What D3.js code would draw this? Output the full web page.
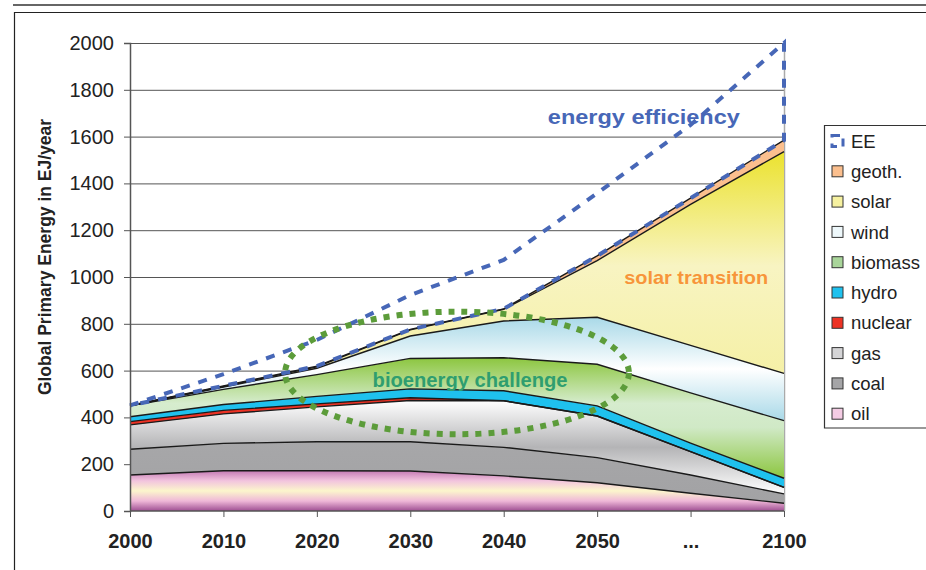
<!DOCTYPE html>
<html>
<head>
<meta charset="utf-8">
<script src="https://cdn.jsdelivr.net/npm/d3@7"></script>
<style>
  body { margin: 0; background: #fff; }
  svg { display: block; font-family: "Liberation Sans", Arial, sans-serif; }
  .axis path { stroke: #555; }
  .axis line { stroke: #555; }
  .axis text { fill: #222; }
  .grid line { stroke: #555; stroke-width: 1; }
  .grid path { display: none; }
</style>
</head>
<body>
<script>
var years = ["2000", "2010", "2020", "2030", "2040", "2050", "...", "2100"];

var oil = [154, 172, 172, 171, 150, 121, 76, 33];
var coal = [110, 117, 124, 125, 122, 107, 78, 40];
var gas = [104, 126, 149, 176, 199, 178, 100, 28];
var nuclear = [14, 15, 13, 12, 0, 0, 0, 0];
var hydro = [21, 25, 32, 38, 43, 43, 36, 39];
var biomass = [46, 65, 93, 130, 141, 178, 215, 246];
var wind = [1, 10, 27, 96, 157, 201, 203, 202];
var solar = [0, 2, 6, 26, 50, 242, 602, 948];
var geoth = [1, 3, 3, 2, 2, 20, 27, 49];
var ee = [0, 50, 112, 147, 209, 268, 313, 415];

var yTicks = [0, 200, 400, 600, 800, 1000, 1200, 1400, 1600, 1800, 2000];

var keys = ["oil", "coal", "gas", "nuclear", "hydro", "biomass", "wind", "solar", "geoth", "EE"];
var legendKeys = ["EE", "geoth.", "solar", "wind", "biomass", "hydro", "nuclear", "gas", "coal", "oil"];

var width = 926;
var height = 570;
var plot = {left: 130, right: 784, top: 43, bottom: 511};

var table = years.map(function(y, i) {
  return {
    year: y, oil: oil[i], coal: coal[i], gas: gas[i], nuclear: nuclear[i],
    hydro: hydro[i], biomass: biomass[i], wind: wind[i], solar: solar[i],
    geoth: geoth[i], EE: ee[i]
  };
});

var xScale = d3.scalePoint()
  .domain(years)
  .range([plot.left, plot.right]);

var yScale = d3.scaleLinear()
  .domain([0, 2000])
  .range([plot.bottom, plot.top]);

var svg = d3.select("body")
  .append("svg")
  .attr("width", width)
  .attr("height", height);

// gradients, one per layer, across each layer's own box
var gradients = {
  oil: [[0, "#c47ab4"], [0.25, "#f2c4de"], [0.5, "#fcf6cc"], [0.75, "#efb8d8"], [1, "#9e4e92"]],
  coal: [[0, "#a7a7a9"], [1, "#a2a2a4"]],
  gas: [[0, "#ffffff"], [0.5, "#b4b4b6"], [1, "#ffffff"]],
  biomass: [[0, "#8cc63f"], [0.38, "#d6ecce"], [0.58, "#d0e9c6"], [1, "#8cc63f"]],
  wind: [[0, "#a9d9e8"], [0.5, "#ffffff"], [1, "#a9d9e8"]],
  solar: [[0, "#ebe22e"], [0.45, "#f8f4c2"], [1, "#f4ef9e"]]
};

var solidFill = {
  nuclear: "#ed3224",
  hydro: "#1fc1ee",
  geoth: "#fbbf8e"
};

var defs = svg.append("defs");
Object.keys(gradients).forEach(function(k) {
  var g = defs.append("linearGradient")
    .attr("id", "grad-" + k)
    .attr("x1", 0).attr("y1", 0)
    .attr("x2", 0).attr("y2", 1);
  gradients[k].forEach(function(s) {
    g.append("stop").attr("offset", s[0]).attr("stop-color", s[1]);
  });
});

function fillFor(k) {
  if (gradients[k]) return "url(#grad-" + k + ")";
  return solidFill[k];
}

// frame
svg.append("line")
  .attr("x1", 13).attr("x2", width).attr("y1", 5).attr("y2", 5)
  .attr("stroke", "#333").attr("stroke-width", 1.5);
svg.append("path")
  .attr("d", "M14.5," + height + "V12.5H" + width)
  .attr("fill", "none").attr("stroke", "#222").attr("stroke-width", 1.2);

// gridlines
svg.append("g")
  .attr("class", "grid")
  .attr("transform", "translate(" + plot.left + ",0)")
  .call(d3.axisLeft(yScale).tickValues(yTicks.slice(1)).tickSize(-(plot.right - plot.left)).tickFormat(""));

svg.append("line")
  .attr("x1", plot.right + 0.5).attr("x2", plot.right + 0.5)
  .attr("y1", plot.top).attr("y2", plot.bottom)
  .attr("stroke", "#aaa").attr("stroke-width", 1.5);

var series = d3.stack().keys(keys)(table);

var area = d3.area()
  .x(function(d) { return xScale(d.data.year); })
  .y0(function(d) { return yScale(d[0]); })
  .y1(function(d) { return yScale(d[1]); });

var topLine = d3.line()
  .x(function(d) { return xScale(d.data.year); })
  .y(function(d) { return yScale(d[1]); });

var layers = series.filter(function(s) { return s.key !== "EE"; });

svg.append("g").selectAll("path")
  .data(layers)
  .enter().append("path")
  .attr("d", area)
  .attr("fill", function(d) { return fillFor(d.key); });

svg.append("g").selectAll("path")
  .data(layers)
  .enter().append("path")
  .attr("d", topLine)
  .attr("fill", "none")
  .attr("stroke", "#1a1a1a")
  .attr("stroke-width", 1.4);

// energy efficiency band: dashed outline only
var eeSeries = series.filter(function(s) { return s.key === "EE"; })[0];
svg.append("path")
  .attr("d", area(eeSeries))
  .attr("fill", "none")
  .attr("stroke", "#4767b7")
  .attr("stroke-width", 4)
  .attr("stroke-dasharray", "9,9");

// axes
var yAxis = d3.axisLeft(yScale).tickValues(yTicks).tickSize(6).tickPadding(10).tickFormat(d3.format("d"));
var xAxis = d3.axisBottom(xScale).tickSize(6).tickPadding(17);

var gy = svg.append("g")
  .attr("class", "axis")
  .attr("transform", "translate(" + plot.left + ",0)")
  .call(yAxis);
gy.selectAll("text").style("font-size", "20px");
gy.select(".domain").attr("stroke-width", 1.5);

var gx = svg.append("g")
  .attr("class", "axis")
  .attr("transform", "translate(0," + plot.bottom + ")")
  .call(xAxis);
gx.select(".domain").attr("d", "M" + plot.left + ",0H" + plot.right).attr("stroke", "#222").attr("stroke-width", 1.5);
gx.selectAll("text").style("font-size", "20px").style("font-weight", "bold");

svg.append("text")
  .attr("transform", "translate(51,257) rotate(-90)")
  .attr("text-anchor", "middle")
  .style("font-size", "17.5px")
  .style("font-weight", "bold")
  .attr("fill", "#222")
  .text("Global Primary Energy in EJ/year");

// bioenergy annotation ellipse, placed between 2030 and 2040
var step = xScale.step();
svg.append("ellipse")
  .attr("cx", xScale("2030") + step / 2)
  .attr("cy", yScale(590))
  .attr("rx", step * 1.84)
  .attr("ry", yScale(0) - yScale(262))
  .attr("fill", "none")
  .attr("stroke", "#5c9c3a")
  .attr("stroke-width", 6)
  .attr("stroke-dasharray", "6,7");

function note(x, y, size, len, color, label) {
  svg.append("text")
    .attr("x", x)
    .attr("y", y)
    .attr("text-anchor", "middle")
    .attr("textLength", len)
    .attr("lengthAdjust", "spacingAndGlyphs")
    .style("font-size", size + "px")
    .style("font-weight", "bold")
    .attr("fill", color)
    .text(label);
}

note(xScale("2030") + step * 0.64, yScale(530), 19.5, 195, "#2f9e6f", "bioenergy challenge");
note(xScale("2050") + step * 0.5, yScale(1655), 20.5, 192, "#4767b7", "energy efficiency");
note(xScale("...") + step * 0.06, yScale(968), 19, 144, "#f7953a", "solar transition");

// legend
var legendFill = {
  "geoth.": fillFor("geoth"), solar: "#f6f1a0", wind: "#eef8fb", biomass: "#a9d59a",
  hydro: "#1fc1ee", nuclear: "#ed3224", gas: "#d4d4d6", coal: "#a5a5a7", oil: "#f4cce4"
};

var legend = svg.append("g").attr("transform", "translate(824,125)");
legend.append("path")
  .attr("d", "M" + (width - 824) + ",0.5H0.5V303H" + (width - 824))
  .attr("fill", "none").attr("stroke", "#333").attr("stroke-width", 1.2);

var items = legend.selectAll(".item")
  .data(legendKeys)
  .enter().append("g")
  .attr("class", "item")
  .attr("transform", function(d, i) { return "translate(8," + (16 + i * 30.3) + ")"; });

items.append("rect")
  .attr("x", 0).attr("y", -5.5)
  .attr("width", 11).attr("height", 11)
  .attr("fill", function(d) { return d === "EE" ? "none" : legendFill[d]; })
  .attr("stroke", function(d) { return d === "EE" ? "#4767b7" : "#333"; })
  .attr("stroke-width", function(d) { return d === "EE" ? 3 : 1; })
  .attr("stroke-dasharray", function(d) { return d === "EE" ? "8,6" : null; });

items.append("text")
  .attr("x", 19)
  .attr("dy", "0.36em")
  .style("font-size", "18.5px")
  .attr("fill", "#222")
  .text(function(d) { return d; });
</script>
</body>
</html>
